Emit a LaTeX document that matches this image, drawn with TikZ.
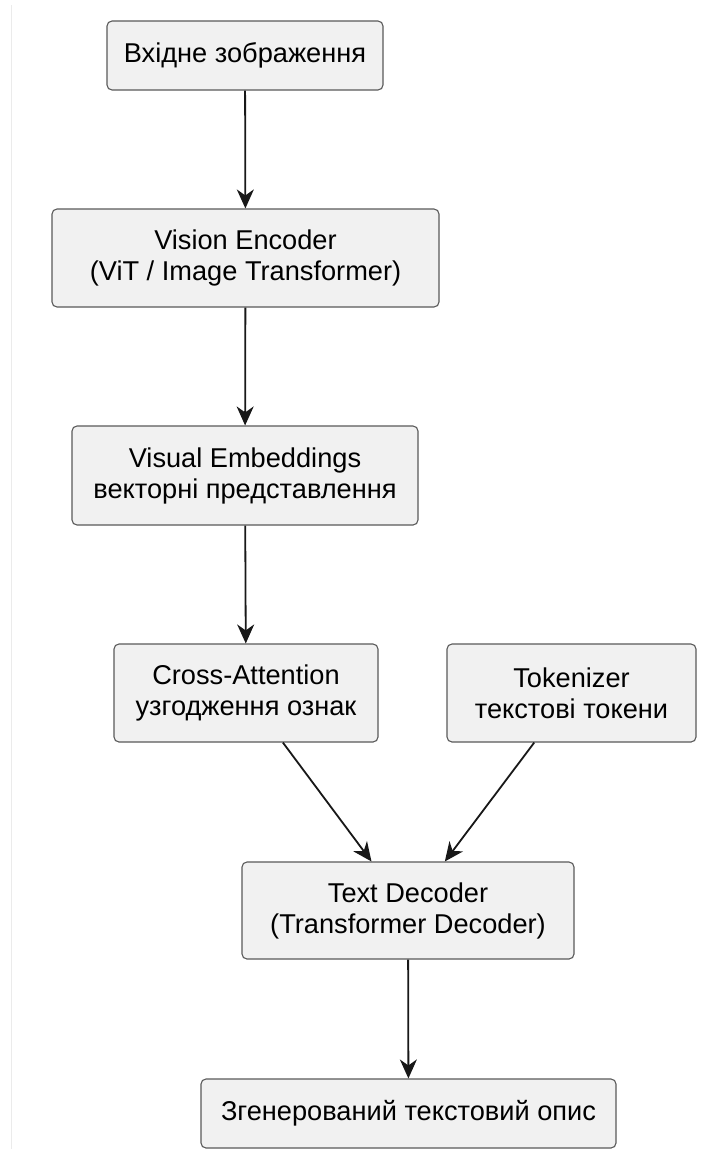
\documentclass[tikz,border=0pt]{standalone}
\usepackage{fontspec}
\setmainfont{Liberation Sans}
\usetikzlibrary{arrows.meta}

\definecolor{boxfill}{HTML}{F1F1F1}
\definecolor{boxline}{HTML}{5A5A5A}
\definecolor{ink}{HTML}{181818}
\definecolor{rule}{HTML}{EBEBEB}

\tikzset{
  stagebox/.style={draw=boxline, line width=1.1pt, fill=boxfill,
    rounded corners=5pt, inner sep=0pt, align=center, text=black,
    font=\fontsize{27.2}{31}\selectfont},
  flow/.style={draw=ink, line width=1.8pt,
    -{Stealth[length=19pt, width=17pt, inset=6pt]}},
}

\begin{document}
\begin{tikzpicture}[x=1pt, y=-1pt]
  \useasboundingbox[fill=white] (0,0) rectangle (709,1149);
  \draw[rule, line width=1pt] (11,5) -- (11,1149);

  \node[stagebox, minimum width=276pt, minimum height=69pt]
    (img) at (245,55.5) {Вхідне зображення};
  \node[stagebox, minimum width=387pt, minimum height=98pt]
    (enc) at (245.5,258) {Vision Encoder\\(ViT / Image Transformer)};
  \node[stagebox, minimum width=346pt, minimum height=99pt]
    (emb) at (245,475.5) {Visual Embeddings\\векторні представлення};
  \node[stagebox, minimum width=264pt, minimum height=98pt]
    (att) at (246,693) {Cross-Attention\\узгодження ознак};
  \node[stagebox, minimum width=249pt, minimum height=98pt]
    (tok) at (571.5,693) {Tokenizer\\текстові токени};
  \node[stagebox, minimum width=332pt, minimum height=97pt]
    (dec) at (408,910.5) {Text Decoder\\(Transformer Decoder)};
  \node[stagebox, minimum width=415pt, minimum height=69pt]
    (out) at (408.5,1113.5) {Згенерований текстовий опис};

  \draw[flow] (img) -- (enc);
  \draw[flow] (enc) -- (emb);
  \draw[flow] (emb) -- (att);
  \draw[flow] (att) -- (dec);
  \draw[flow] (tok) -- (dec);
  \draw[flow] (dec) -- (out);
\end{tikzpicture}
\end{document}
